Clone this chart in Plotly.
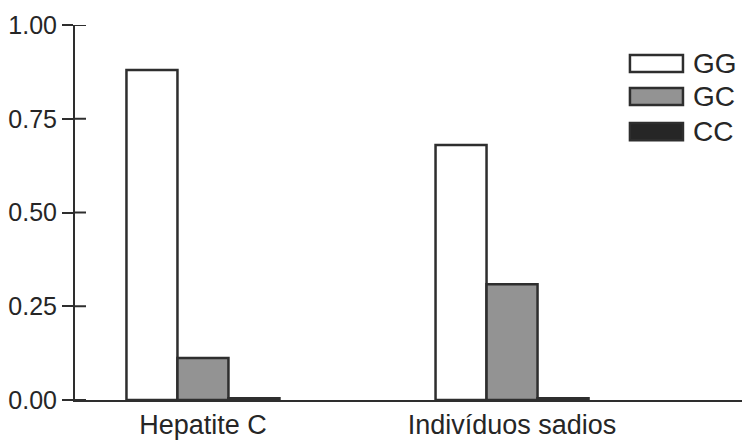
import plotly.graph_objects as go

categories = ["Hepatite C", "Indivíduos sadios"]
series_names = ["GG", "GC", "CC"]
gg_values = [0.88, 0.68]
gc_values = [0.112, 0.309]
cc_values = [0.005, 0.005]
y_ticks = [0.0, 0.25, 0.5, 0.75, 1.0]
y_tick_labels = ["0.00", "0.25", "0.50", "0.75", "1.00"]

fills = ["#ffffff", "#939393", "#262626"]
outline = "#2e2e2e"
text_col = "#262626"
FONT = "Liberation Sans, Arial, sans-serif"

fig = go.Figure()
for name, vals, col in zip(series_names, [gg_values, gc_values, cc_values], fills):
    fig.add_trace(go.Bar(
        x=categories, y=vals, name=name,
        marker=dict(color=col, line=dict(color=outline, width=2.5)),
        showlegend=False,
    ))

# inner half of the crossing y ticks (placed at tick values on the y scale)
for v in y_ticks:
    fig.add_shape(type="line", xref="paper", yref="y", x0=0, x1=11 / 667,
                  y0=v, y1=v, line=dict(color=outline, width=2))

# custom legend with wide swatches
sw_x0, sw_x1 = 0.832, 0.9115
rows = [(0.92, 0.875), (0.832, 0.787), (0.739, 0.693)]
for (y1, y0), name, col in zip(rows, series_names, fills):
    fig.add_shape(type="rect", xref="paper", yref="paper", x0=sw_x0, x1=sw_x1,
                  y0=y0, y1=y1, fillcolor=col, line=dict(color=outline, width=2.5))
    fig.add_annotation(xref="paper", yref="paper", x=0.923, y=(y0 + y1) / 2,
                       text=name, showarrow=False, xanchor="left", yanchor="middle",
                       font=dict(family=FONT, size=28, color=text_col))

fig.update_layout(
    width=742, height=445,
    margin=dict(l=75, r=0, t=25, b=45, autoexpand=False),
    paper_bgcolor="white", plot_bgcolor="white",
    barmode="group", bargap=0.505, bargroupgap=0,
    font=dict(family=FONT, size=26, color=text_col),
    xaxis=dict(range=[-0.414, 1.744], showgrid=False, showline=True,
               linecolor=outline, linewidth=2, ticks="", zeroline=False,
               tickfont=dict(size=27, color=text_col)),
    yaxis=dict(range=[0, 1], tickvals=y_ticks, ticktext=y_tick_labels,
               showgrid=False, showline=True, linecolor=outline, linewidth=2,
               ticks="outside", ticklen=11, tickwidth=2, tickcolor=outline,
               zeroline=False, tickfont=dict(size=25, color=text_col)),
)

fig.write_html("out.html", config={"displayModeBar": False},
               post_script="document.body.style.margin='0';")
